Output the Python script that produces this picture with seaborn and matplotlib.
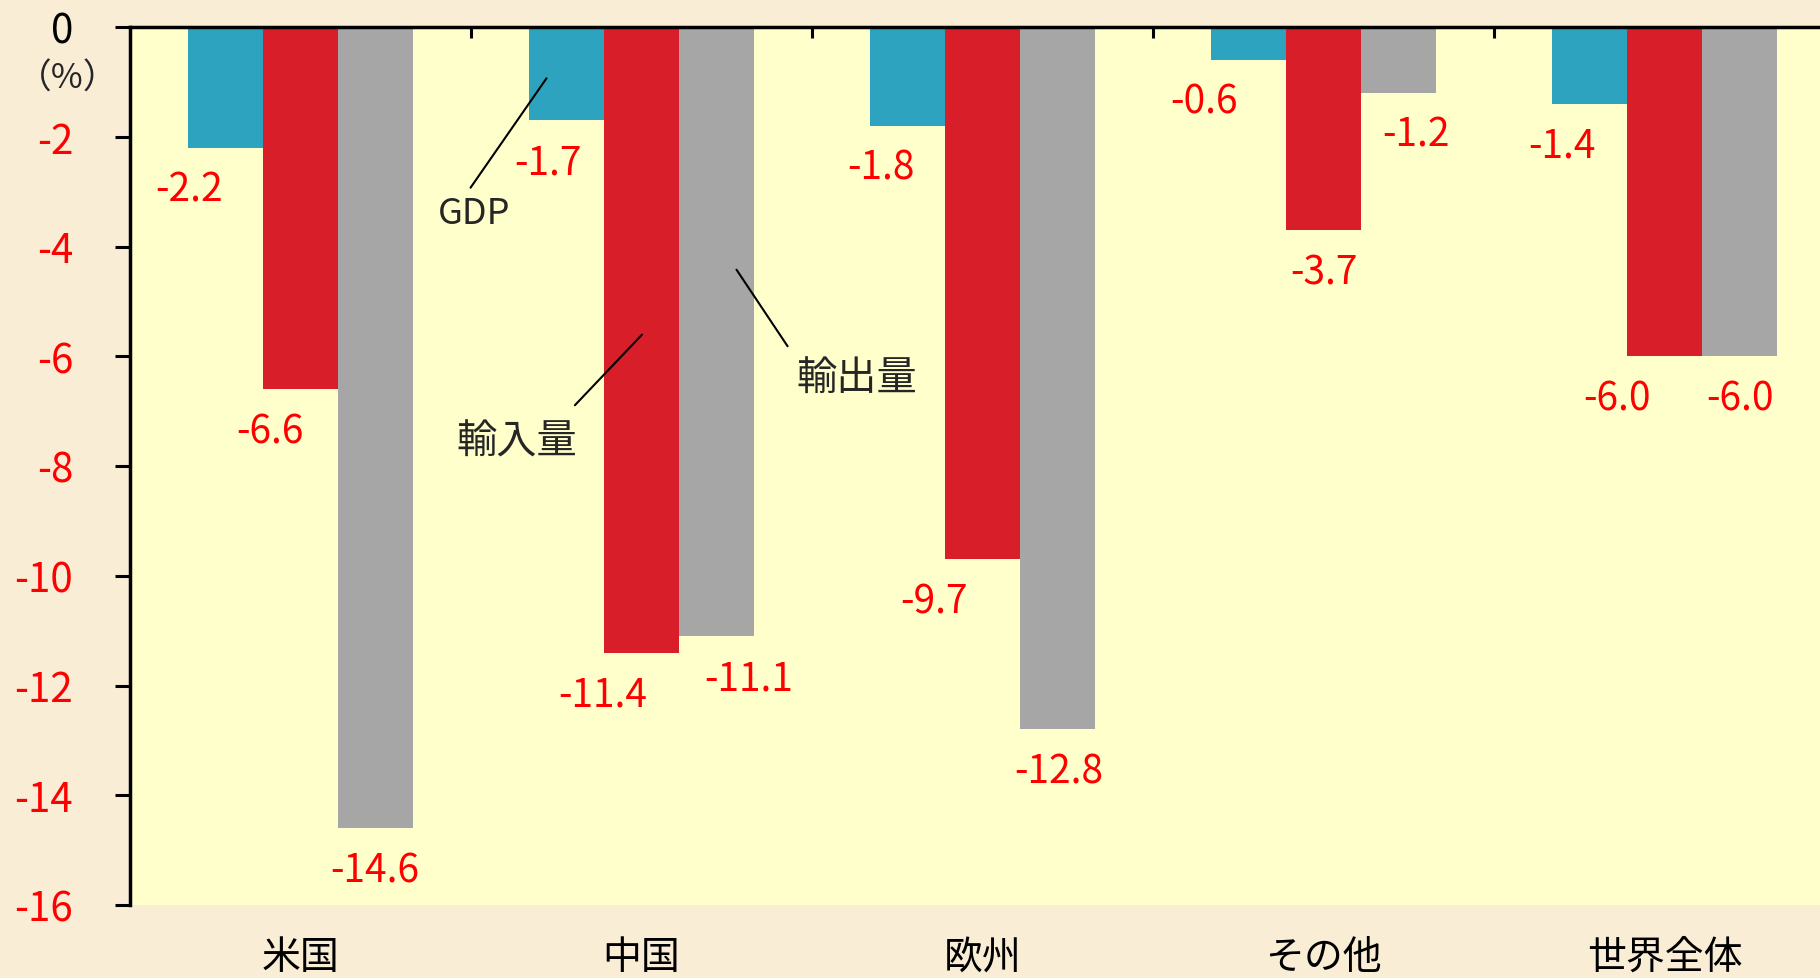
import numpy as np
import pandas as pd
import seaborn as sns
import matplotlib.pyplot as plt

# data
regions = ['米国', '中国', '欧州', 'その他', '世界全体']
series = ['GDP', '輸入量', '輸出量']
gdp = [-2.2, -1.7, -1.8, -0.6, -1.4]
imports = [-6.6, -11.4, -9.7, -3.7, -6.0]
exports = [-14.6, -11.1, -12.8, -1.2, -6.0]
yticks = [0, -2, -4, -6, -8, -10, -12, -14, -16]
ytick_labels = ['0', '-2', '-4', '-6', '-8', '-10', '-12', '-14', '-16']

colors = ['#2ea3c0', '#d81e29', '#a6a6a6']

# horizontal nudges (pixels) for the value labels, per series then region
nudge = [[-36, -18, -27, -44, -27],
         [-31, -39, -48, 0, -48],
         [-1, 32, 1, 17, 0]]

df = pd.DataFrame({
    'region': regions * 3,
    'series': [s for s in series for _ in regions],
    'value': gdp + imports + exports,
})

sns.set_theme(style='white')
plt.rcParams['font.family'] = ['Noto Sans CJK JP', 'DejaVu Sans']

fig = plt.figure(figsize=(18.2, 9.79), dpi=100)
fig.patch.set_facecolor('#f9edd6')
ax = fig.add_axes([130 / 1820, 1 - 906 / 979, 1 - 130 / 1820, (906 - 28) / 979])
ax.set_facecolor('#ffffcc')

sns.barplot(data=df, x='region', y='value', hue='series', palette=colors,
            width=0.66, saturation=1, ax=ax, legend=False, edgecolor='none')

# value labels under each bar
for i, cont in enumerate(ax.containers):
    for j, bar in enumerate(cont):
        v = bar.get_height()
        xc = bar.get_x() + bar.get_width() / 2
        ax.annotate(f'{v:.1f}', xy=(xc, v), xytext=(nudge[i][j], -42),
                    textcoords='offset pixels', ha='center', va='center',
                    color='#ff0000', fontsize=28)

ax.set_ylim(-16, 0)
ax.set_xlim(-0.5, 4.456)
ax.set_yticks(yticks)
ax.set_yticklabels(ytick_labels)
for lab in ax.get_yticklabels():
    lab.set_color('black' if lab.get_text() == '0' else '#ff0000')
    lab.set_fontsize(29)
ax.tick_params(axis='y', which='major', left=True, direction='out', length=11,
               width=2.2, color='black', pad=30)

ax.set_xticks(range(len(regions)))
ax.set_xticklabels(regions, fontsize=28)
ax.set_xticks([0.5, 1.5, 2.5, 3.5], minor=True)
ax.tick_params(axis='x', which='major', length=0, pad=23, labelcolor='black')
ax.tick_params(axis='x', which='minor', top=True, bottom=False, direction='in',
               length=8, width=2.2, color='black')
ax.set_xlabel('')
ax.set_ylabel('')

for side in ['bottom', 'right']:
    ax.spines[side].set_visible(False)
for side in ['left', 'top']:
    ax.spines[side].set_visible(True)
    ax.spines[side].set_color('black')
    ax.spines[side].set_linewidth(2.5)

fig.text(68 / 1820, 1 - 79 / 979, '（%）', ha='center', va='center', fontsize=25)

# leader lines with series names
ax.annotate('', xy=(0.726, -0.894), xytext=(0.494, -2.97),
            arrowprops=dict(arrowstyle='-', lw=1.5, color='black'))
ax.text(0.509, -3.39, 'GDP', ha='center', va='center', fontsize=26)
ax.annotate('', xy=(1.007, -5.57), xytext=(0.799, -6.93),
            arrowprops=dict(arrowstyle='-', lw=1.5, color='black'))
ax.text(0.635, -7.55, '輸入量', ha='center', va='center', fontsize=29)
ax.annotate('', xy=(1.274, -4.38), xytext=(1.433, -5.86),
            arrowprops=dict(arrowstyle='-', lw=1.5, color='black'))
ax.text(1.632, -6.41, '輸出量', ha='center', va='center', fontsize=29)

fig.savefig('out.png', dpi=100, facecolor=fig.get_facecolor())
